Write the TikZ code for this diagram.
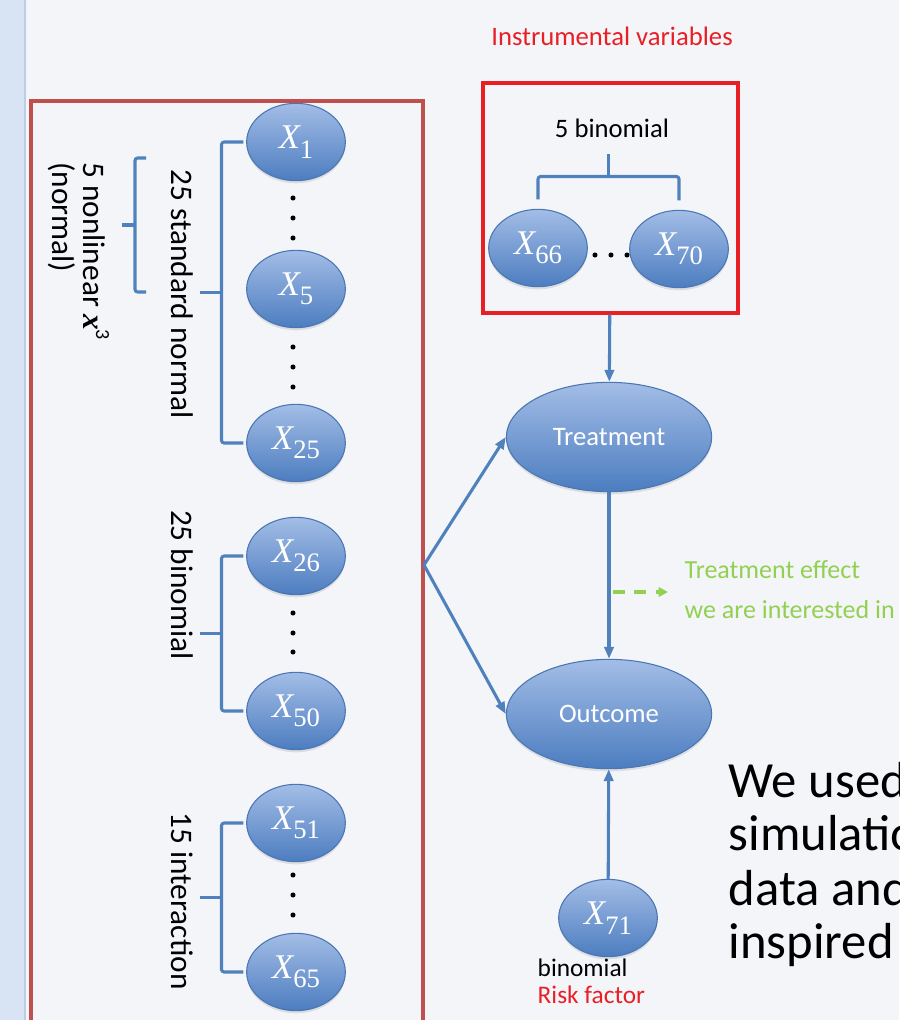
\documentclass[tikz,border=0pt]{standalone}
\usepackage{fontspec}
\setmainfont{Carlito}
\newfontfamily\varfont{Liberation Serif}
\usetikzlibrary{arrows.meta,shapes.geometric,shadows,calc}
\definecolor{slidebg}{RGB}{244,245,249}
\definecolor{stripbg}{RGB}{216,227,243}
\definecolor{stripedge}{RGB}{190,205,228}
\definecolor{covred}{RGB}{192,80,77}
\definecolor{ivred}{RGB}{232,32,38}
\definecolor{linkblue}{RGB}{79,129,189}
\definecolor{vartop}{RGB}{163,189,230}
\definecolor{varbot}{RGB}{76,125,192}
\definecolor{varedge}{RGB}{74,118,180}
\definecolor{effgreen}{RGB}{146,208,80}
% variable label: italic X with a large lowered index
\newcommand{\xlab}[1]{{\varfont\itshape\fontsize{26}{26}\selectfont X}%
  \raisebox{-7pt}{\varfont\fontsize{20}{20}\selectfont #1}}

\begin{document}
\begin{tikzpicture}[
  x=0.75pt, y=-0.75pt,
  every node/.style={font=\fontsize{20}{24}\selectfont},
  var/.style={ellipse, draw=varedge, line width=0.8pt, top color=vartop,
              bottom color=varbot, minimum width=74pt, minimum height=58pt,
              inner sep=0pt, text=white,
              drop shadow={opacity=0.2, shadow xshift=0pt, shadow yshift=-2pt}},
  big/.style={var, minimum width=154pt, minimum height=82pt,
              font=\fontsize{20}{24}\selectfont},
  link/.style={-{Triangle[length=9pt, width=7pt]}, draw=linkblue, line width=2.3pt},
  effect/.style={-{Triangle[length=7pt, width=7pt]}, draw=effgreen, line width=3pt,
                 dash pattern=on 9pt off 7pt},
  brk/.style={draw=linkblue, line width=2.3pt, rounded corners=2pt},
  side/.style={rotate=-90, font=\fontsize{23.5}{25}\selectfont},
  note/.style={font=\fontsize{38}{40}\selectfont}
]
\useasboundingbox (0,0) rectangle (899,1020);
\clip (0,0) rectangle (899,1020);
\fill[slidebg] (0,0) rectangle (899,1020);
\fill[stripbg] (0,0) rectangle (25,1020);
\draw[stripedge, line width=1pt] (25,0) -- (25,1020);

% covariates
\draw[covred, line width=2.4pt] (31,101) rectangle (423,1040);
\node[var] (x1)  at (296,142) {\xlab{1}};
\node[var] (x5)  at (296,289) {\xlab{5}};
\node[var] (x25) at (296,443) {\xlab{25}};
\node[var] (x26) at (296,556) {\xlab{26}};
\node[var] (x50) at (296,711) {\xlab{50}};
\node[var] (x51) at (296,823) {\xlab{51}};
\node[var] (x65) at (296,972) {\xlab{65}};
\foreach \y in {198,218,238,347,367,387,613,633,652,875,895,915}
  \fill (293,\y) circle (1.9pt);
\foreach \a/\b in {x1/x25, x26/x50, x51/x65} {
  \draw[brk] ([xshift=-2pt]\a.west) -- ++(-22,0) |- ([xshift=-2pt]\b.west);
  \draw[brk] ($(\a.west)!0.5!(\b.west)+(-25,0)$) -- ++(-21,0);
}
\draw[brk] (146,158) -- (135,158) -- (135,292) -- (146,292);
\draw[brk] (135,225) -- (122,225);
\node[side] (lstd) at (182,294) {25 standard normal};
\node[side] (lbin) at (182,585) {25 binomial};
\node[side] (lint) at (182,901) {15 interaction};
\node[side, anchor=base west, inner sep=0pt] (lnonlin) at (83,162)
  {5 nonlinear {\varfont\itshape\bfseries x}\raisebox{0.42em}{\fontsize{15}{15}\selectfont 3}};
\node[side, anchor=base west, inner sep=0pt] (lnormal) at (52,162) {(normal)};

% instruments
\node[text=ivred] (ivtitle) at (612,36) {Instrumental variables};
\node[draw=ivred, line width=3pt, minimum width=191pt, minimum height=172pt] (ivbox) at (610.5,198) {};
\node (ivlbl) at (612,128) {5 binomial};
\node[var] (x66) at (538,248) {\xlab{66}};
\node[var] (x70) at (679,249) {\xlab{70}};
\foreach \x in {595,611,627}
  \fill (\x,255) circle (1.9pt);
\draw[brk] ([yshift=7pt]x66.north) -- ++(0,-23) -| ([yshift=7pt]x70.north);
\draw[brk] ($(x66.north)!0.5!(x70.north)+(0,-32)$) -- ++(0,-23);

% treatment and outcome
\node[big] (treat) at (609,437) {Treatment};
\node[big] (outc)  at (609,714) {Outcome};
\node[var] (x71)   at (608,918) {\xlab{71}};
\node[anchor=west, align=left, font=\fontsize{19}{20}\selectfont] (x71lbl) at (533,981)
  {binomial\\\textcolor{ivred}{Risk factor}};
\coordinate (fork) at (424,565);
\draw[link] (ivbox) -- (treat);
\draw[link] (treat) -- (outc);
\draw[link] (x71) -- (outc);
\draw[link] (fork) -- (treat.west);
\draw[link] (fork) -- (outc.west);

\node[anchor=west, align=left, text=effgreen, font=\fontsize{19.5}{30}\selectfont] (efftxt)
  at (680,590) {Treatment effect\\we are interested in};
\coordinate (effstart) at (613,592);
\draw[effect, shorten >=9pt] (effstart) -- (effstart -| efftxt.west);

\foreach \w/\yb [count=\i] in {We used/797, simulation/850, data and/905, inspired/958}
  \node[note, anchor=base west] (note\i) at (724,\yb) {\w};
\end{tikzpicture}
\end{document}
